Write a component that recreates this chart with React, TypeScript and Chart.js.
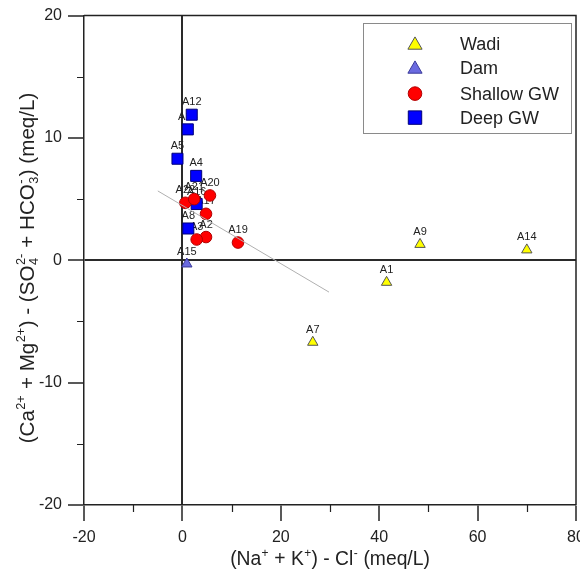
import React, { useEffect, useRef } from 'react';
import { Chart, registerables } from 'chart.js';

Chart.register(...registerables);

// ---------- data ----------
const seriesNames = ['Wadi', 'Dam', 'Shallow GW', 'Deep GW'];

const wadiLabels = ['A1', 'A7', 'A9', 'A14'];
const wadiX = [41.5, 26.5, 48.3, 70.0];
const wadiY = [-1.8, -6.7, 1.3, 0.85];

const damLabels = ['A15'];
const damX = [0.9];
const damY = [-0.3];

const shallowLabels = ['A22', 'A21', 'A20', 'A17', 'A2', 'A3', 'A19'];
const shallowX = [0.6, 2.4, 5.6, 4.8, 4.8, 2.9, 11.3];
const shallowY = [4.7, 5.0, 5.3, 3.8, 1.9, 1.7, 1.45];

const deepLabels = ['A12', 'A18', 'A5', 'A4', 'A16', 'A8'];
const deepX = [1.9, 1.1, -1.0, 2.8, 2.9, 1.2];
const deepY = [11.9, 10.7, 8.3, 6.9, 4.6, 2.6];

const trendX = [-5.0, 29.8];
const trendY = [5.67, -2.6];

const xMajorTicks = [-20, 0, 20, 40, 60, 80];
const xMinorTicks = [-10, 10, 30, 50, 70];
const yMajorTicks = [-20, -10, 0, 10, 20];
const yMinorTicks = [-15, -5, 5, 15];

// ---------- styling ----------
const FONT = "'Liberation Sans', Arial, Helvetica, sans-serif";
const INK = '#222222';

const styles = [
  { style: 'triangle', radius: 6, bg: '#ffff00', border: '#555555' },
  { style: 'triangle', radius: 6, bg: '#6b6be0', border: '#3a3a9a' },
  { style: 'circle', radius: 5.8, bg: '#ff0000', border: '#b00000' },
  { style: 'rect', radius: 7.8, bg: '#0000ff', border: '#00007a' },
];

type Run = { t?: string; sup?: string; sub?: string };

const xTitleRuns: Run[] = [
  { t: '(Na' }, { sup: '+' }, { t: ' + K' }, { sup: '+' }, { t: ') - Cl' }, { sup: '-' }, { t: ' (meq/L)' },
];
const yTitleRuns: Run[] = [
  { t: '(Ca' }, { sup: '2+' }, { t: ' + Mg' }, { sup: '2+' }, { t: ') - (SO' }, { sub: '4', sup: '2-' },
  { t: ' + HCO' }, { sub: '3', sup: '-' }, { t: ') (meq/L)' },
];

function drawRich(ctx: CanvasRenderingContext2D, runs: Run[], size: number) {
  const small = size * 0.62;
  const widths = runs.map((r) => {
    if (r.t !== undefined) {
      ctx.font = `${size}px ${FONT}`;
      return ctx.measureText(r.t).width;
    }
    ctx.font = `${small}px ${FONT}`;
    const a = r.sup ? ctx.measureText(r.sup).width : 0;
    const b = r.sub ? ctx.measureText(r.sub).width : 0;
    return Math.max(a, b) + size * 0.04;
  });
  const total = widths.reduce((s, w) => s + w, 0);
  let x = -total / 2;
  ctx.textAlign = 'left';
  ctx.textBaseline = 'alphabetic';
  runs.forEach((r, i) => {
    if (r.t !== undefined) {
      ctx.font = `${size}px ${FONT}`;
      ctx.fillText(r.t, x, 0);
    } else {
      ctx.font = `${small}px ${FONT}`;
      if (r.sup) ctx.fillText(r.sup, x + size * 0.02, -size * 0.4);
      if (r.sub) ctx.fillText(r.sub, x + size * 0.02, size * 0.22);
    }
    x += widths[i];
  });
}

function drawMarker(ctx: CanvasRenderingContext2D, kind: string, x: number, y: number, r: number, bg: string, border: string) {
  ctx.beginPath();
  if (kind === 'triangle') {
    ctx.moveTo(x, y - r);
    ctx.lineTo(x + r * 0.866, y + r * 0.5);
    ctx.lineTo(x - r * 0.866, y + r * 0.5);
    ctx.closePath();
  } else if (kind === 'circle') {
    ctx.arc(x, y, r, 0, Math.PI * 2);
  } else {
    const s = r / Math.SQRT2;
    ctx.rect(x - s, y - s, 2 * s, 2 * s);
  }
  ctx.fillStyle = bg;
  ctx.fill();
  ctx.strokeStyle = border;
  ctx.lineWidth = 1;
  ctx.stroke();
}

const pointLabels = [null, wadiLabels, damLabels, shallowLabels, deepLabels];

const labelPlugin = {
  id: 'pointLabels',
  beforeDatasetsDraw(chart: any) {
    const ctx = chart.ctx;
    ctx.save();
    ctx.font = `11px ${FONT}`;
    ctx.fillStyle = INK;
    ctx.textAlign = 'center';
    ctx.textBaseline = 'middle';
    pointLabels.forEach((labels, di) => {
      if (!labels) return;
      const meta = chart.getDatasetMeta(di);
      meta.data.forEach((el: any, i: number) => {
        ctx.fillText(labels[i], el.x, el.y - 12.5);
      });
    });
    ctx.restore();
  },
};

const decorPlugin = {
  id: 'decor',
  afterDraw(chart: any) {
    const ctx: CanvasRenderingContext2D = chart.ctx;
    const a = chart.chartArea;
    const xs = chart.scales.x;
    const ys = chart.scales.y;
    ctx.save();
    // frame (top and right)
    ctx.strokeStyle = INK;
    ctx.lineWidth = 1.5;
    ctx.beginPath();
    ctx.moveTo(a.left, a.top);
    ctx.lineTo(a.right, a.top);
    ctx.lineTo(a.right, a.bottom);
    ctx.stroke();
    // minor ticks
    ctx.lineWidth = 1.2;
    ctx.beginPath();
    xMinorTicks.forEach((v) => {
      const px = Math.round(xs.getPixelForValue(v)) + 0.5;
      ctx.moveTo(px, a.bottom);
      ctx.lineTo(px, a.bottom + 7);
    });
    yMinorTicks.forEach((v) => {
      const py = Math.round(ys.getPixelForValue(v)) + 0.5;
      ctx.moveTo(a.left - 7, py);
      ctx.lineTo(a.left, py);
    });
    ctx.stroke();

    // axis titles
    ctx.fillStyle = INK;
    ctx.save();
    ctx.translate((a.left + a.right) / 2, 565);
    drawRich(ctx, xTitleRuns, 19.3);
    ctx.restore();
    ctx.save();
    ctx.translate(33.5, 268);
    ctx.rotate(-Math.PI / 2);
    drawRich(ctx, yTitleRuns, 20.6);
    ctx.restore();

    // legend
    const bw = 208;
    const bh = 110;
    const bx = a.right - 5 - bw;
    const by = a.top + 7;
    ctx.strokeStyle = '#8a8a8a';
    ctx.lineWidth = 1;
    ctx.strokeRect(Math.round(bx) + 0.5, Math.round(by) + 0.5, bw, bh);
    const rowY = [by + 21, by + 45, by + 71, by + 95];
    seriesNames.forEach((name, i) => {
      const st = styles[i];
      const scale = st.style === 'rect' ? 9.5 : st.style === 'circle' ? 6.8 : 8.2;
      drawMarker(ctx, st.style, bx + 52, rowY[i] + (st.style === 'triangle' ? 1.5 : 0), scale, st.bg, st.border);
      ctx.fillStyle = INK;
      ctx.font = `18px ${FONT}`;
      ctx.textAlign = 'left';
      ctx.textBaseline = 'middle';
      ctx.fillText(name, bx + 97, rowY[i] + 1);
    });
    ctx.restore();
  },
};

function pts(xs: number[], ys: number[]) {
  return xs.map((x, i) => ({ x, y: ys[i] }));
}

export default function App() {
  const ref = useRef<HTMLCanvasElement | null>(null);

  useEffect(() => {
    if (!ref.current) return;
    const seriesData = [pts(wadiX, wadiY), pts(damX, damY), pts(shallowX, shallowY), pts(deepX, deepY)];
    const chart = new Chart(ref.current, {
      type: 'scatter',
      data: {
        datasets: [
          {
            type: 'line',
            label: 'trend',
            data: pts(trendX, trendY),
            showLine: true,
            borderColor: '#b0b0b0',
            borderWidth: 1,
            pointRadius: 0,
            fill: false,
          } as any,
          ...seriesNames.map((name, i) => ({
            label: name,
            data: seriesData[i],
            pointStyle: styles[i].style,
            pointRadius: styles[i].radius,
            pointBackgroundColor: styles[i].bg,
            pointBorderColor: styles[i].border,
            pointBorderWidth: 1,
            backgroundColor: styles[i].bg,
            borderColor: styles[i].border,
          })),
        ],
      },
      options: {
        animation: false,
        responsive: false,
        maintainAspectRatio: false,
        devicePixelRatio: 1,
        events: [],
        layout: { padding: { top: 15, right: 24, left: 0, bottom: 0 } },
        plugins: {
          legend: { display: false },
          tooltip: { enabled: false },
          title: { display: false },
        },
        scales: {
          x: {
            type: 'linear',
            position: 'bottom',
            min: -20,
            max: 80,
            afterFit: (s: any) => {
              s.height = 68;
            },
            ticks: {
              stepSize: 10,
              autoSkip: false,
              maxRotation: 0,
              padding: 7,
              color: INK,
              font: { family: FONT, size: 16 },
              callback: (v: any) => (xMajorTicks.includes(Number(v)) ? String(v) : ''),
            },
            grid: {
              drawOnChartArea: true,
              color: (c: any) => (c.tick && c.tick.value === 0 ? '#2a2a2a' : 'rgba(0,0,0,0)'),
              lineWidth: (c: any) => (c.tick && c.tick.value === 0 ? 2 : 0),
              tickColor: (c: any) => (c.tick && xMajorTicks.includes(c.tick.value) ? INK : 'rgba(0,0,0,0)'),
              tickLength: 16,
              tickWidth: 1.5,
            },
            border: { display: true, color: INK, width: 1.5 },
          },
          y: {
            type: 'linear',
            position: 'left',
            min: -20,
            max: 20,
            afterFit: (s: any) => {
              s.width = 84;
            },
            ticks: {
              stepSize: 5,
              autoSkip: false,
              padding: 6,
              color: INK,
              font: { family: FONT, size: 16 },
              callback: (v: any) => (yMajorTicks.includes(Number(v)) ? String(v) : ''),
            },
            grid: {
              drawOnChartArea: true,
              color: (c: any) => (c.tick && c.tick.value === 0 ? '#2a2a2a' : 'rgba(0,0,0,0)'),
              lineWidth: (c: any) => (c.tick && c.tick.value === 0 ? 2 : 0),
              tickColor: (c: any) => (c.tick && yMajorTicks.includes(c.tick.value) ? INK : 'rgba(0,0,0,0)'),
              tickLength: 16,
              tickWidth: 1.5,
            },
            border: { display: true, color: INK, width: 1.5 },
          },
        },
      },
      plugins: [labelPlugin, decorPlugin],
    });
    return () => chart.destroy();
  }, []);

  return (
    <div style={{ position: 'absolute', left: 0, top: 0, width: 580, height: 573, overflow: 'hidden', background: '#fff' }}>
      <canvas ref={ref} width={600} height={573} style={{ display: 'block' }} />
    </div>
  );
}
